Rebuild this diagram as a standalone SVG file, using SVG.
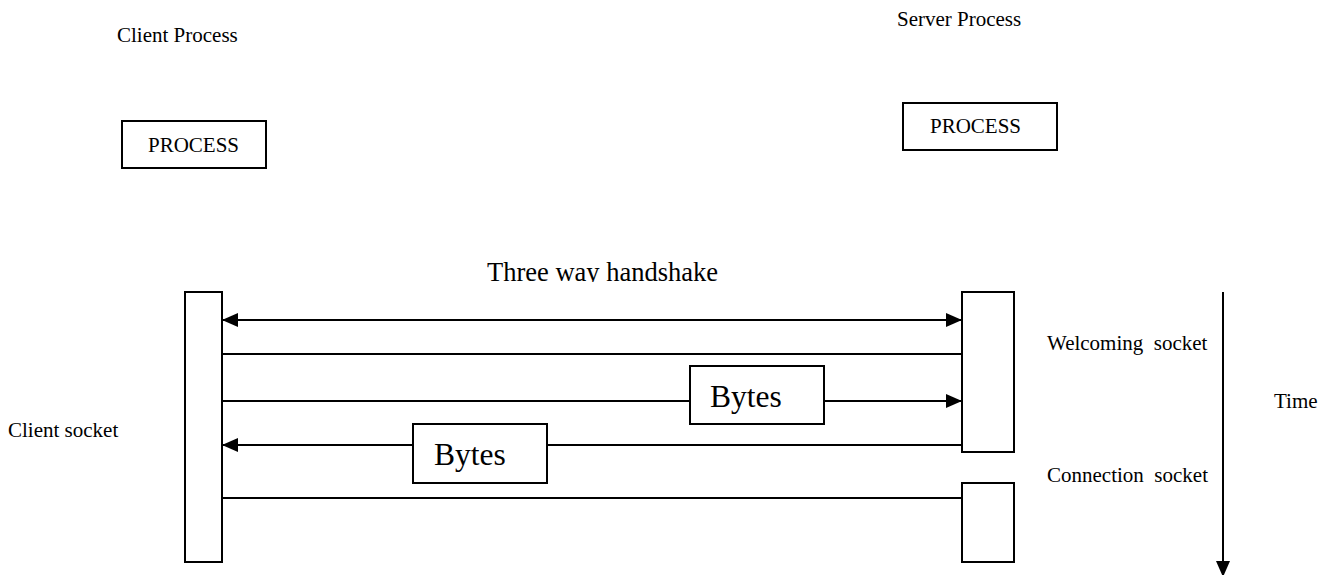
<svg xmlns="http://www.w3.org/2000/svg" width="1332" height="575" viewBox="0 0 1332 575">
<style>
text { font-family: "Liberation Serif", "Times New Roman", serif; fill: #000; white-space: pre; }
.t21 { font-size: 21px; }
.box { fill: #fff; stroke: #000; stroke-width: 2; }
.ln { stroke: #000; stroke-width: 2; fill: none; }
</style>
<defs>
<marker id="ah" markerUnits="userSpaceOnUse" markerWidth="16" markerHeight="14" refX="16" refY="7" orient="auto-start-reverse">
<path d="M0,0 L16,7 L0,14 z" fill="#000"/>
</marker>
<clipPath id="clipT"><rect x="0" y="0" width="1332" height="282"/></clipPath>
</defs>
<rect width="1332" height="575" fill="#fff"/>

<g id="labels">
<text class="t21" x="117" y="42">Client Process</text>
<text class="t21" x="897" y="26">Server Process</text>
<text x="487" y="281" font-size="26.5" clip-path="url(#clipT)">Three way handshake</text>
<text class="t21" x="8" y="437">Client socket</text>
<text class="t21" x="1047" y="350">Welcoming  socket</text>
<text class="t21" x="1047" y="482">Connection  socket</text>
<text class="t21" x="1274" y="408">Time</text>
</g>

<g id="client-process">
<rect class="box" x="122" y="121" width="144" height="47"/>
<text class="t21" x="148" y="152">PROCESS</text>
</g>
<g id="server-process">
<rect class="box" x="903" y="103" width="154" height="47"/>
<text class="t21" x="930" y="133">PROCESS</text>
</g>

<g id="client-socket">
<rect class="box" x="185" y="292" width="37" height="270"/>
</g>
<g id="welcoming-socket">
<rect class="box" x="962" y="292" width="52" height="160"/>
</g>
<g id="connection-socket">
<rect class="box" x="962" y="483" width="52" height="79"/>
</g>

<g id="connectors">
<line class="ln" x1="222" y1="320" x2="962" y2="320" marker-start="url(#ah)" marker-end="url(#ah)"/>
<line class="ln" x1="222" y1="354" x2="962" y2="354"/>
<line class="ln" x1="222" y1="401" x2="690" y2="401"/>
<line class="ln" x1="824" y1="401" x2="962" y2="401" marker-end="url(#ah)"/>
<line class="ln" x1="962" y1="445" x2="547" y2="445"/>
<line class="ln" x1="413" y1="445" x2="222" y2="445" marker-end="url(#ah)"/>
<line class="ln" x1="222" y1="498" x2="962" y2="498"/>
<line class="ln" x1="1223" y1="292" x2="1223" y2="577" marker-end="url(#ah)"/>
</g>

<g id="bytes-1">
<rect class="box" x="690" y="366" width="134" height="58"/>
<text x="710" y="407" font-size="31.5">Bytes</text>
</g>
<g id="bytes-2">
<rect class="box" x="413" y="424" width="134" height="59"/>
<text x="434" y="465" font-size="31.5">Bytes</text>
</g>
</svg>
